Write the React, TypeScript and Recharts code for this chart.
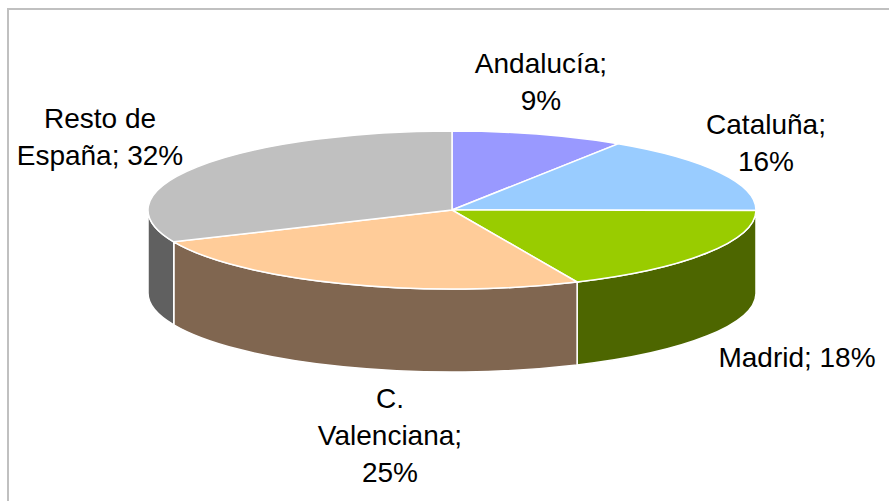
import { PieChart, Pie, Cell, Sector } from 'recharts';

const REGIONS = ['Andalucía', 'Cataluña', 'Madrid', 'C. Valenciana', 'Resto de España'];
const SHARES = [9.2, 15.9, 18.15, 25.15, 31.6];
const TOP_COLORS = ['#9999ff', '#99ccff', '#99cc00', '#ffcc99', '#c0c0c0'];
const WALL_COLORS = ['#4d4d80', '#4d6680', '#4d6600', '#806650', '#606060'];
const LABEL_LINES = [
  ['Andalucía;', '9%'],
  ['Cataluña;', '16%'],
  ['Madrid; 18%'],
  ['C.', 'Valenciana;', '25%'],
  ['Resto de', 'España; 32%'],
];
const LABEL_X = [541, 766, 797, 390, 100];
const LABEL_Y = [73, 134, 367, 408, 128];

const data = REGIONS.map((name, i) => ({ name, value: SHARES[i] }));

const WIDTH = 889;
const HEIGHT = 501;
const CX = 452;
const CY = 210;
const RX = 304;
const RY = 79;
const DEPTH = 83;
const LINE_HEIGHT = 37;

function TopSlice(props: any) {
  const { cx, cy } = props;
  const squash = `translate(${cx} ${cy}) scale(1 ${RY / RX}) translate(${-cx} ${-cy})`;
  return (
    <g transform={squash}>
      <Sector {...props} style={{ vectorEffect: 'non-scaling-stroke' }} />
    </g>
  );
}

// side of the disc: only the part of a slice that faces the viewer (lower half)
function WallSlice(props: any) {
  const { cx, cy, outerRadius, startAngle, endAngle, fill } = props;
  const from = Math.min(startAngle, 0);
  const to = Math.max(endAngle, -180);
  if (from <= to) return null;
  const ry = (outerRadius * RY) / RX;
  const pt = (deg: number) => {
    const r = (deg * Math.PI) / 180;
    return [cx + outerRadius * Math.cos(r), cy - ry * Math.sin(r)];
  };
  const [x1, y1] = pt(from);
  const [x2, y2] = pt(to);
  const large = from - to > 180 ? 1 : 0;
  const d = [
    `M ${x1} ${y1}`,
    `A ${outerRadius} ${ry} 0 ${large} 1 ${x2} ${y2}`,
    `L ${x2} ${y2 + DEPTH}`,
    `A ${outerRadius} ${ry} 0 ${large} 0 ${x1} ${y1 + DEPTH}`,
    'Z',
  ].join(' ');
  return <path d={d} fill={fill} stroke="#fff" strokeWidth={1.5} />;
}

function SliceLabel({ index }: any) {
  return (
    <text textAnchor="middle" fill="#000" fontSize={28} fontFamily="Liberation Sans, Arial, sans-serif">
      {LABEL_LINES[index].map((line, i) => (
        <tspan key={line} x={LABEL_X[index]} y={LABEL_Y[index] + i * LINE_HEIGHT}>
          {line}
        </tspan>
      ))}
    </text>
  );
}

export default function App() {
  return (
    <div style={{ position: 'absolute', left: 0, top: 0, width: WIDTH, height: HEIGHT, background: '#fff', overflow: 'hidden' }}>
      <div
        style={{
          position: 'absolute',
          left: 7,
          top: 8,
          width: WIDTH,
          height: HEIGHT,
          borderTop: '2px solid #c0c0c0',
          borderLeft: '2px solid #c0c0c0',
        }}
      />
      <div style={{ position: 'absolute', left: 0, top: 0 }}>
        <PieChart width={WIDTH} height={HEIGHT} margin={{ top: 0, right: 0, bottom: 0, left: 0 }}>
          <Pie
            data={data}
            dataKey="value"
            nameKey="name"
            cx={CX}
            cy={CY}
            outerRadius={RX}
            startAngle={90}
            endAngle={-270}
            shape={WallSlice}
            isAnimationActive={false}
          >
            {data.map((d, i) => (
              <Cell key={d.name} fill={WALL_COLORS[i]} />
            ))}
          </Pie>
          <Pie
            data={data}
            dataKey="value"
            nameKey="name"
            cx={CX}
            cy={CY}
            outerRadius={RX}
            startAngle={90}
            endAngle={-270}
            stroke="#fff"
            strokeWidth={1.5}
            shape={TopSlice}
            label={SliceLabel}
            labelLine={false}
            isAnimationActive={false}
          >
            {data.map((d, i) => (
              <Cell key={d.name} fill={TOP_COLORS[i]} />
            ))}
          </Pie>
        </PieChart>
      </div>
    </div>
  );
}
